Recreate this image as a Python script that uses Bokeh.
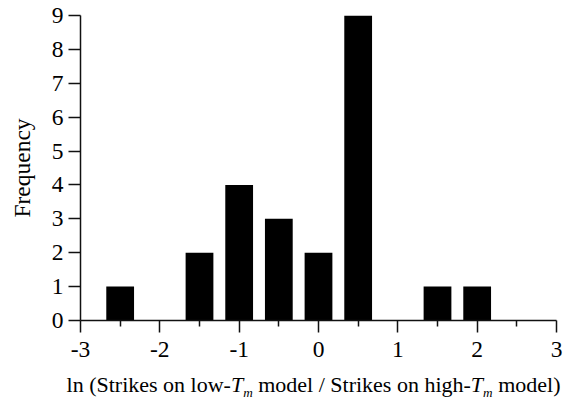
from bokeh.plotting import figure
from bokeh.models import Range1d, FixedTicker, Div
from bokeh.layouts import column
from bokeh.embed import file_html
from bokeh.resources import INLINE

# ---- data ----
bin_centers = [-2.5, -1.5, -1.0, -0.5, 0.0, 0.5, 1.5, 2.0]
frequency = [1, 2, 4, 3, 2, 9, 1, 1]
x_ticks = [-3, -2, -1, 0, 1, 2, 3]
x_tick_labels = ["-3", "-2", "-1", "0", "1", "2", "3"]
x_minor_ticks = [-2.5, -1.5, -0.5, 0.5, 1.5, 2.5]
y_ticks = [0, 1, 2, 3, 4, 5, 6, 7, 8, 9]
y_label = "Frequency"
x_label_html = ("ln (Strikes on low-<i>T</i><sub style=\"font-size:0.6em\"><i>m</i></sub> model / "
                "Strikes on high-<i>T</i><sub style=\"font-size:0.6em\"><i>m</i></sub> model)")

FONT = "Liberation Serif"

p = figure(width=579, height=372, output_backend="svg", toolbar_location=None,
           x_range=Range1d(-3, 3), y_range=Range1d(0, 9),
           min_border_left=80, min_border_right=23, min_border_top=15,
           min_border_bottom=52)
p.outline_line_color = None
p.xgrid.grid_line_color = None
p.ygrid.grid_line_color = None
p.background_fill_color = "white"
p.border_fill_color = "white"

p.vbar(x=bin_centers, top=frequency, bottom=0, width=0.35,
       fill_color="black", line_color=None)

for ax in (p.xaxis[0], p.yaxis[0]):
    ax.axis_line_width = 1.5
    ax.axis_line_color = "#111111"
    ax.major_tick_line_color = "#111111"
    ax.major_tick_line_width = 1.5
    ax.major_tick_in = 0
    ax.major_tick_out = 12
    ax.major_label_text_font = FONT
    ax.major_label_text_font_size = "23.5px"
    ax.major_label_text_color = "black"

p.xaxis.ticker = FixedTicker(ticks=x_ticks, minor_ticks=x_minor_ticks)
p.xaxis.major_label_overrides = dict(zip(x_ticks, x_tick_labels))
p.xaxis.minor_tick_in = 0
p.xaxis.minor_tick_out = 6
p.xaxis.minor_tick_line_width = 1.5
p.xaxis.minor_tick_line_color = "#111111"
p.xaxis.major_label_standoff = 9

p.yaxis.ticker = FixedTicker(ticks=y_ticks)
p.yaxis.minor_tick_line_color = None
p.yaxis.major_label_standoff = 5
p.yaxis.axis_label = y_label
p.yaxis.axis_label_text_font = FONT
p.yaxis.axis_label_text_font_size = "23.5px"
p.yaxis.axis_label_text_font_style = "normal"
p.yaxis.axis_label_text_color = "black"
p.yaxis.axis_label_standoff = 14

xlabel = Div(
    text=('<div style="width:579px; text-align:center; position:relative; left:24px; '
          'font-family:\'Liberation Serif\'; font-size:22px; line-height:26px; '
          'color:black; white-space:nowrap;">' + x_label_html + '</div>'),
    width=579, height=29, margin=0)

layout = column(p, xlabel, spacing=0)
open("out.html", "w").write(file_html(layout, INLINE))
